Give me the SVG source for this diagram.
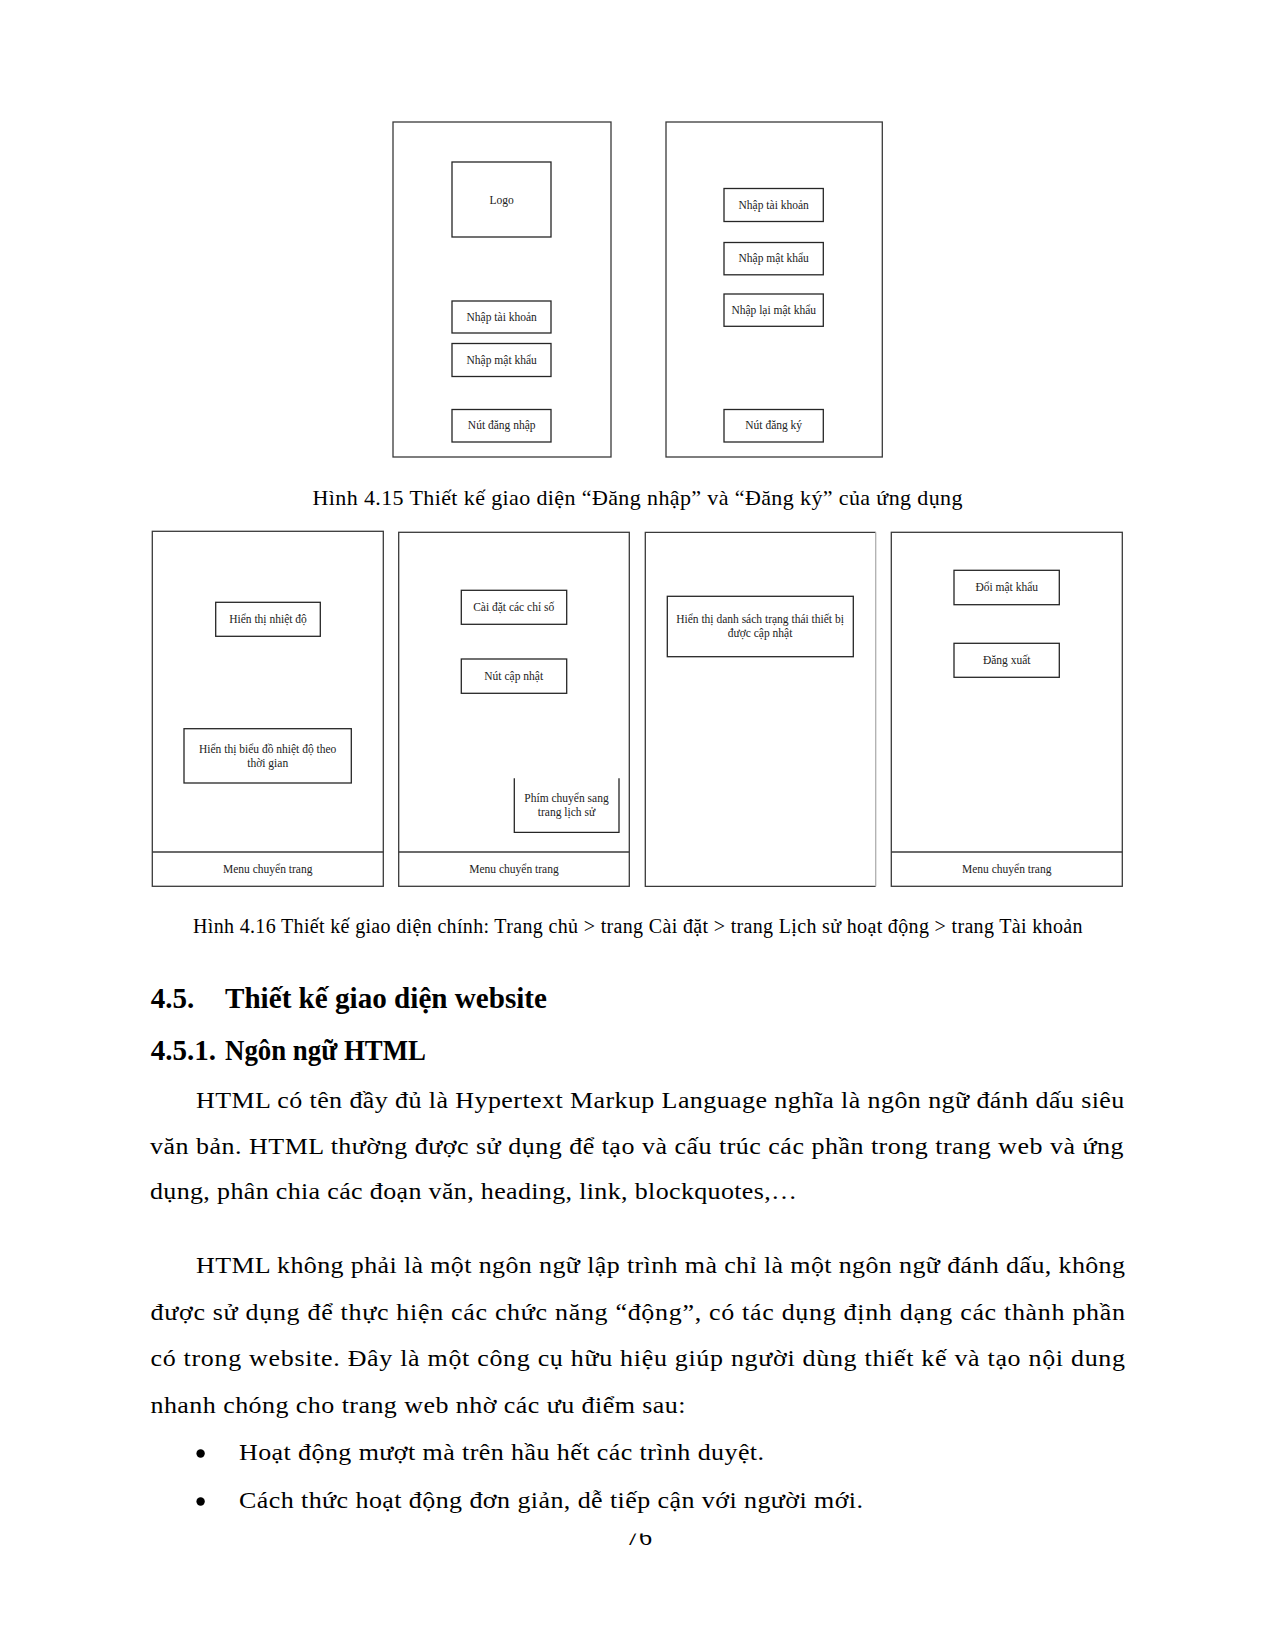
<svg xmlns="http://www.w3.org/2000/svg" width="1275" height="1650" viewBox="0 0 1275 1650">
<style>
.frame{fill:none;stroke:#3a3a3a;stroke-width:1.3}
.box{fill:none;stroke:#262626;stroke-width:1.3}
.div{stroke:#3a3a3a;stroke-width:1.3}
.lbl{font-family:"Liberation Serif","Times New Roman",serif;font-size:11.5px;fill:#222;text-anchor:middle;dominant-baseline:central}
.cap{font-family:"Liberation Serif","Times New Roman",serif;fill:#000}
.body{font-family:"Liberation Serif","Times New Roman",serif;font-size:26px;fill:#000}
.h{font-family:"Liberation Serif","Times New Roman",serif;font-weight:bold;font-size:29px;fill:#000}
</style>
<defs>
<clipPath id="pgclip"><rect x="600" y="1533.5" width="80" height="30"/></clipPath>
</defs>
<rect width="1275" height="1650" fill="#fff"/>

<g id="screen-login">
<rect class="frame" x="393" y="122" width="218" height="335"/>
<g id="login-logo"><rect class="box" x="452" y="162" width="99" height="75"/><text class="lbl" x="501.7" y="199.5">Logo</text></g>
<g id="login-user"><rect class="box" x="452" y="301" width="99" height="32"/><text class="lbl" x="501.7" y="316.5">Nhập tài khoản</text></g>
<g id="login-pass"><rect class="box" x="452" y="343.5" width="99" height="33"/><text class="lbl" x="501.7" y="359.5">Nhập mật khẩu</text></g>
<g id="login-btn"><rect class="box" x="452" y="409.5" width="99" height="32.5"/><text class="lbl" x="501.7" y="425">Nút đăng nhập</text></g>
</g>

<g id="screen-register">
<rect class="frame" x="666" y="122" width="216.3" height="335"/>
<g id="reg-user"><rect class="box" x="724" y="188.5" width="99.3" height="33"/><text class="lbl" x="773.7" y="204.5">Nhập tài khoản</text></g>
<g id="reg-pass"><rect class="box" x="724" y="242.5" width="99.3" height="32.3"/><text class="lbl" x="773.7" y="258">Nhập mật khẩu</text></g>
<g id="reg-pass2"><rect class="box" x="724" y="294" width="99.3" height="32.3"/><text class="lbl" x="773.7" y="309.8">Nhập lại mật khẩu</text></g>
<g id="reg-btn"><rect class="box" x="724" y="409.5" width="99.3" height="32.5"/><text class="lbl" x="773.7" y="425">Nút đăng ký</text></g>
</g>

<g id="caption-415">
<text class="cap" x="312.5" y="505" font-size="22" textLength="650" lengthAdjust="spacing">Hình 4.15 Thiết kế giao diện “Đăng nhập” và “Đăng ký” của ứng dụng</text>
</g>

<g id="screen-home">
<rect class="frame" x="152.3" y="531.3" width="231" height="355"/>
<line class="div" x1="152.3" y1="852" x2="383.3" y2="852"/>
<g id="home-temp"><rect class="box" x="215.7" y="602.3" width="104.6" height="34"/><text class="lbl" x="268" y="619">Hiển thị nhiệt độ</text></g>
<g id="home-chart"><rect class="box" x="184" y="728.7" width="167.3" height="54.3"/><text class="lbl" x="267.7" y="748.7">Hiển thị biểu đồ nhiệt độ theo</text><text class="lbl" x="267.7" y="762.7">thời gian</text></g>
<text class="lbl" x="267.7" y="868.7">Menu chuyển trang</text>
</g>

<g id="screen-settings">
<rect class="frame" x="398.7" y="532.3" width="230.6" height="354"/>
<line class="div" x1="398.7" y1="852" x2="629.3" y2="852"/>
<g id="set-params"><rect class="box" x="461.3" y="590.3" width="105.4" height="34"/><text class="lbl" x="513.7" y="606.7">Cài đặt các chỉ số</text></g>
<g id="set-update"><rect class="box" x="461.3" y="659" width="105.4" height="34.3"/><text class="lbl" x="513.7" y="676">Nút cập nhật</text></g>
<g id="set-history"><path class="box" d="M514.3,778.3 V832.3 H619 V778.3"/><text class="lbl" x="566.5" y="797.7">Phím chuyển sang</text><text class="lbl" x="566.5" y="812">trang lịch sử</text></g>
<text class="lbl" x="514" y="868.7">Menu chuyển trang</text>
</g>

<g id="screen-history">
<path class="frame" d="M875.7,532.3 H645.3 V886.3 H875.7"/>
<line x1="875.7" y1="532.3" x2="875.7" y2="886.3" stroke="#b0b0b0" stroke-width="1.3"/>
<g id="hist-list"><rect class="box" x="667.3" y="596.3" width="186" height="60.4"/><text class="lbl" x="760" y="619">Hiển thị danh sách trạng thái thiết bị</text><text class="lbl" x="760" y="633.3">được cập nhật</text></g>
</g>

<g id="screen-account">
<rect class="frame" x="891.3" y="532.3" width="231" height="354"/>
<line class="div" x1="891.3" y1="852" x2="1122.3" y2="852"/>
<g id="acc-pass"><rect class="box" x="954" y="570.3" width="105.3" height="34.4"/><text class="lbl" x="1006.7" y="586.7">Đổi mật khẩu</text></g>
<g id="acc-logout"><rect class="box" x="954" y="643.3" width="105.3" height="34"/><text class="lbl" x="1006.7" y="660">Đăng xuất</text></g>
<text class="lbl" x="1006.7" y="868.7">Menu chuyển trang</text>
</g>

<g id="connectors"></g>

<g id="caption-416">
<text class="cap" x="193" y="932.5" font-size="20" textLength="889.5" lengthAdjust="spacing">Hình 4.16 Thiết kế giao diện chính: Trang chủ &gt; trang Cài đặt &gt; trang Lịch sử hoạt động &gt; trang Tài khoản</text>
</g>

<g id="text-body">
<text class="h" x="150.7" y="1007.5">4.5.</text>
<text class="h" x="225" y="1007.5" textLength="322" lengthAdjust="spacingAndGlyphs">Thiết kế giao diện website</text>
<text class="h" x="150.7" y="1060">4.5.1.</text>
<text class="h" x="225" y="1060" textLength="201" lengthAdjust="spacingAndGlyphs">Ngôn ngữ HTML</text>

<text class="body" transform="translate(196 1107.5) scale(1 0.85)" textLength="928.3" lengthAdjust="spacing">HTML có tên đầy đủ là Hypertext Markup Language nghĩa là ngôn ngữ đánh dấu siêu</text>
<text class="body" transform="translate(150 1153.5) scale(1 0.85)" textLength="973.5" lengthAdjust="spacing">văn bản. HTML thường được sử dụng để tạo và cấu trúc các phần trong trang web và ứng</text>
<text class="body" transform="translate(150 1199.3) scale(1 0.85)" textLength="647" lengthAdjust="spacing">dụng, phân chia các đoạn văn, heading, link, blockquotes,…</text>

<text class="body" transform="translate(196 1273.3) scale(1 0.85)" textLength="929" lengthAdjust="spacing">HTML không phải là một ngôn ngữ lập trình mà chỉ là một ngôn ngữ đánh dấu, không</text>
<text class="body" transform="translate(150.5 1319.5) scale(1 0.85)" textLength="974.5" lengthAdjust="spacing">được sử dụng để thực hiện các chức năng “động”, có tác dụng định dạng các thành phần</text>
<text class="body" transform="translate(150.5 1366) scale(1 0.85)" textLength="974.5" lengthAdjust="spacing">có trong website. Đây là một công cụ hữu hiệu giúp người dùng thiết kế và tạo nội dung</text>
<text class="body" transform="translate(150.5 1412.5) scale(1 0.85)" textLength="535" lengthAdjust="spacing">nhanh chóng cho trang web nhờ các ưu điểm sau:</text>

<circle cx="200.6" cy="1453.5" r="4.2" fill="#000"/>
<text class="body" transform="translate(239 1460) scale(1 0.85)" textLength="525" lengthAdjust="spacing">Hoạt động mượt mà trên hầu hết các trình duyệt.</text>
<circle cx="200.6" cy="1501.5" r="4.2" fill="#000"/>
<text class="body" transform="translate(239 1508.3) scale(1 0.85)" textLength="624" lengthAdjust="spacing">Cách thức hoạt động đơn giản, dễ tiếp cận với người mới.</text>

<g clip-path="url(#pgclip)"><text class="body" x="639" y="1545" text-anchor="middle" font-size="23">76</text></g>
</g>
</svg>
